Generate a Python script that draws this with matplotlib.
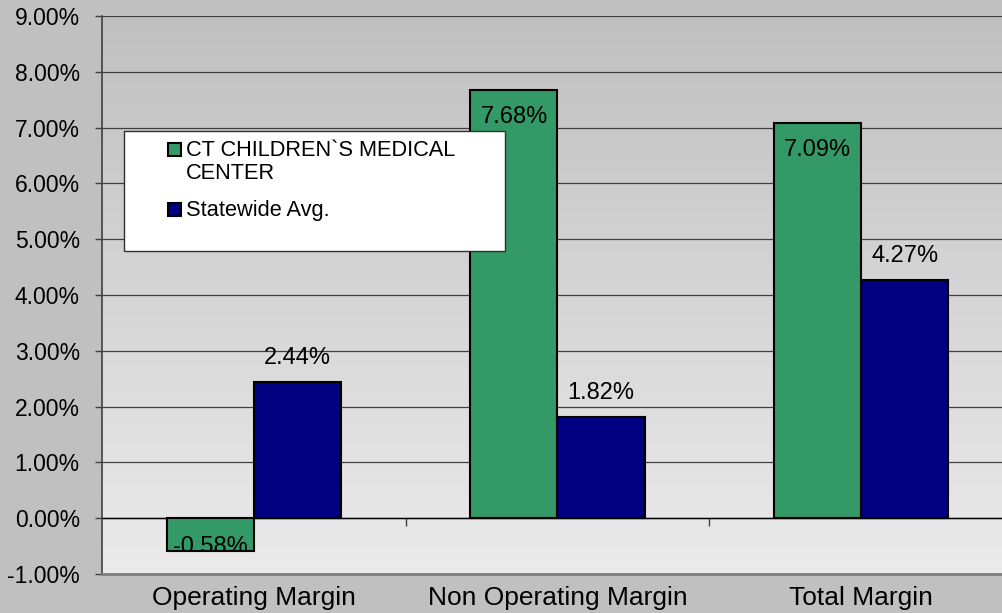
import numpy as np
import matplotlib.pyplot as plt
from matplotlib.colors import LinearSegmentedColormap
from matplotlib.patches import Rectangle

categories = ['Operating Margin', 'Non Operating Margin', 'Total Margin']
hospital = [-0.58, 7.68, 7.09]
statewide = [2.44, 1.82, 4.27]
series_names = ['CT CHILDREN`S MEDICAL\nCENTER', 'Statewide Avg.']
y_ticks = [-1, 0, 1, 2, 3, 4, 5, 6, 7, 8, 9]

plt.rcParams['font.family'] = ['Liberation Sans', 'DejaVu Sans']

W, H = 1003, 613
fig = plt.figure(figsize=(W / 100, H / 100), dpi=100)
fig.patch.set_facecolor('#C0C0C0')

# plot area runs a little past the right edge like the original
ax = fig.add_axes([102 / W, 1 - 574 / H, (1013 - 102) / W, (574 - 16) / H])
ax.set_facecolor('none')

# vertical gradient in the plot area
grad = np.linspace(0, 1, 256).reshape(-1, 1)
cmap = LinearSegmentedColormap.from_list('plotarea', ['#EBEBEB', '#C0C0C0'])
ax.imshow(grad, extent=[0, 1, 0, 1], transform=ax.transAxes, aspect='auto',
          cmap=cmap, origin='lower', zorder=0)

x = np.arange(len(categories))
width = 0.287
green = '#339966'
navy = '#000080'

bars_h = ax.bar(x - width / 2, hospital, width, color=green, edgecolor='black',
                linewidth=1.5, zorder=3)
bars_s = ax.bar(x + width / 2, statewide, width, color=navy, edgecolor='black',
                linewidth=1.5, zorder=3)

ax.set_xlim(-0.5, len(categories) - 0.5)
ax.set_ylim(-1, 9)
ax.set_yticks(y_ticks)
ax.set_yticklabels(['%.2f%%' % v for v in y_ticks], fontsize=16.5)
ax.set_xticks(x)
ax.set_xticklabels(categories, fontsize=19)
ax.tick_params(axis='x', length=0, pad=9)
ax.tick_params(axis='y', length=5, width=1, color='#404040', pad=11)

ax.grid(axis='y', color='#404040', linewidth=0.9, zorder=1)
ax.axhline(0, color='black', linewidth=1, zorder=2)

for s in ['top', 'right']:
    ax.spines[s].set_visible(False)
ax.spines['left'].set_color('#404040')
ax.spines['left'].set_linewidth(1.2)
ax.spines['bottom'].set_color('#808080')
ax.spines['bottom'].set_linewidth(2)

# category separators on the zero line
sec = ax.secondary_xaxis(0.1)
sec.set_xticks(x[:-1] + 0.5)
sec.set_xticklabels([''] * (len(categories) - 1))
sec.tick_params(length=6, width=1, color='#404040', direction='out')
sec.spines['bottom'].set_visible(False)

# data labels
for b, v in zip(bars_h, hospital):
    xc = b.get_x() + b.get_width() / 2
    if v >= 0:
        ax.annotate('%.2f%%' % v, (xc, v), xytext=(0, -19.5), textcoords='offset points',
                    ha='center', va='center', fontsize=17, zorder=4)
    else:
        t = ax.annotate('%.2f%%' % v, (xc, v), xytext=(0, 2.5), textcoords='offset points',
                        ha='center', va='center', fontsize=17, zorder=4)
        t.set_clip_path(b)
for b, v in zip(bars_s, statewide):
    ax.annotate('%.2f%%' % v, (b.get_x() + b.get_width() / 2, v), xytext=(0, 17),
                textcoords='offset points', ha='center', va='center', fontsize=17, zorder=4)

# legend, drawn by hand so the swatch sits on the first text line
fig.patches.append(Rectangle((124 / W, 1 - 251 / H), (505 - 124) / W, (251 - 131) / H,
                             transform=fig.transFigure, facecolor='white',
                             edgecolor='#303030', linewidth=1, zorder=5))
legend_rows = [149, 209]
for name, col, yc in zip(series_names, [green, navy], legend_rows):
    fig.patches.append(Rectangle((168 / W, 1 - (yc + 7) / H), 13 / W, 13 / H,
                                 transform=fig.transFigure, facecolor=col,
                                 edgecolor='black', linewidth=1.5, zorder=6))
    fig.text(186 / W, 1 - (yc - 9) / H, name, ha='left', va='top', fontsize=15.7,
             linespacing=1.15, zorder=6)

fig.savefig('out.png', dpi=100, facecolor=fig.get_facecolor())
